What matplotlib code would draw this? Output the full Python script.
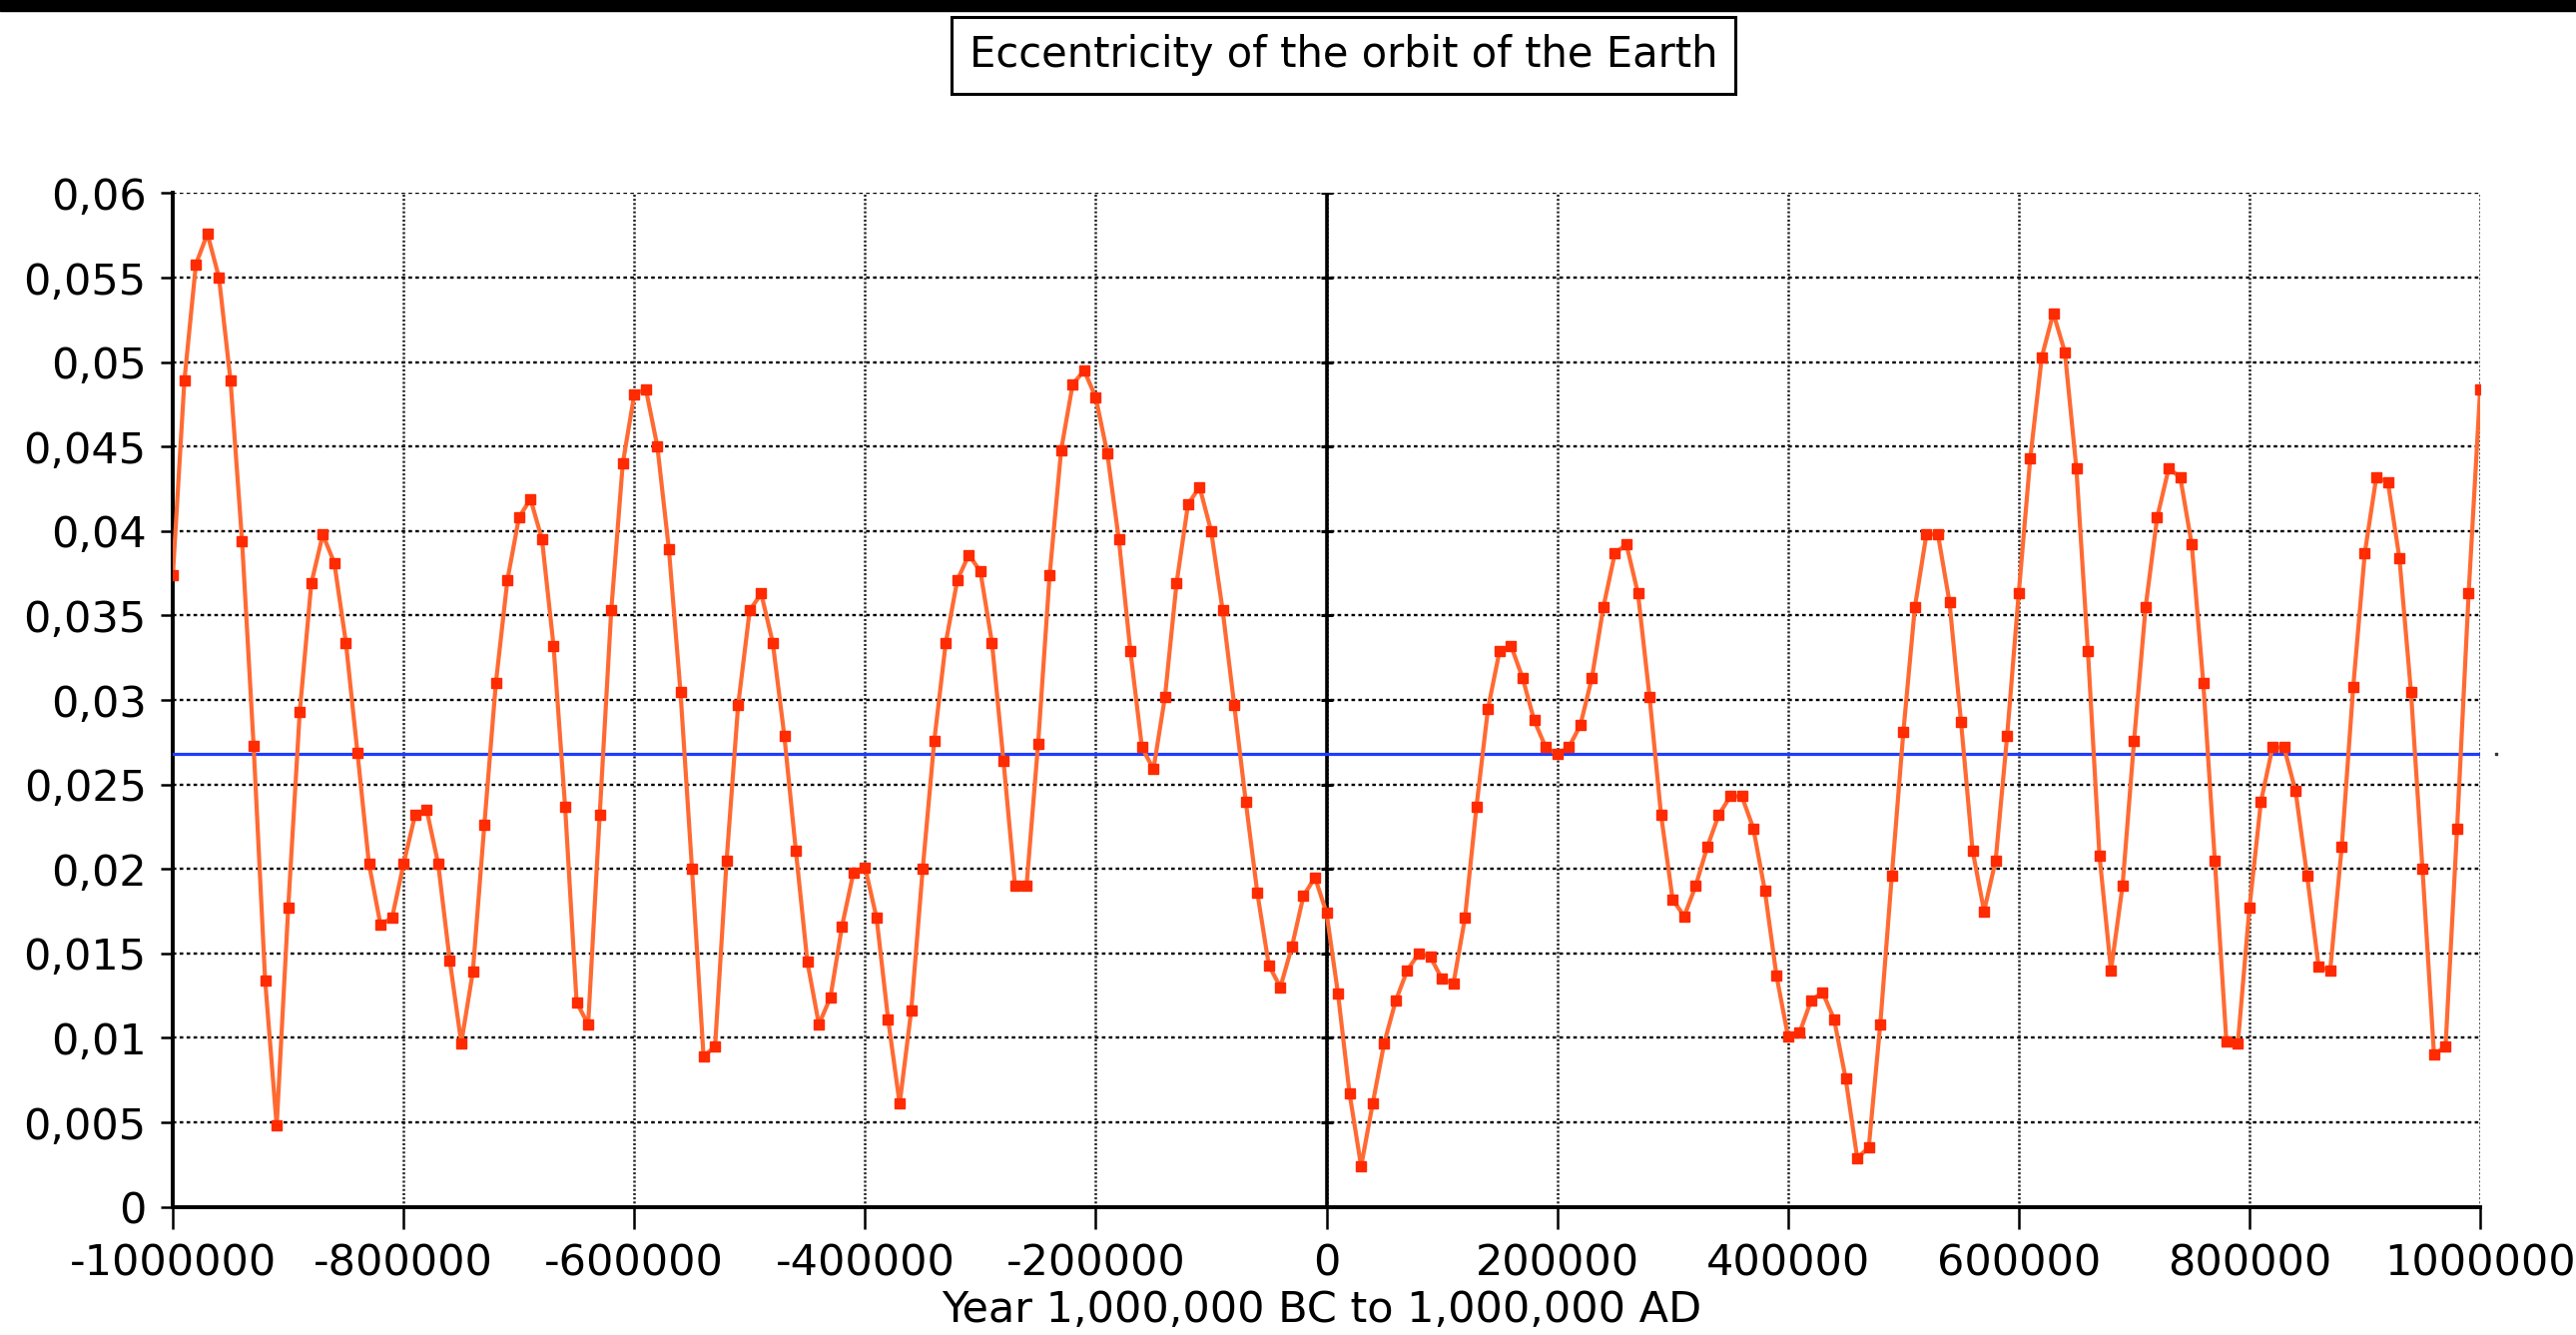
import numpy as np
import matplotlib.pyplot as plt
from matplotlib.patches import Rectangle
import matplotlib.transforms as mtransforms

plt.rcParams['font.family'] = ['DejaVu Sans']
plt.rcParams['lines.scale_dashes'] = False

years = np.arange(-1000000, 1000001, 10000)

eccentricity = [
    0.0374, 0.0489, 0.0558, 0.0576, 0.0550, 0.0489, 0.0394, 0.0273, 0.0134, 0.0048,
    0.0177, 0.0293, 0.0369, 0.0398, 0.0381, 0.0334, 0.0269, 0.0203, 0.0167, 0.0171,
    0.0203, 0.0232, 0.0235, 0.0203, 0.0146, 0.0097, 0.0139, 0.0226, 0.0310, 0.0371,
    0.0408, 0.0419, 0.0395, 0.0332, 0.0237, 0.0121, 0.0108, 0.0232, 0.0353, 0.0440,
    0.0481, 0.0484, 0.0450, 0.0389, 0.0305, 0.0200, 0.0089, 0.0095, 0.0205, 0.0297,
    0.0353, 0.0363, 0.0334, 0.0279, 0.0211, 0.0145, 0.0108, 0.0124, 0.0166, 0.0198,
    0.0201, 0.0171, 0.0111, 0.0061, 0.0116, 0.0200, 0.0276, 0.0334, 0.0371, 0.0386,
    0.0376, 0.0334, 0.0264, 0.0190, 0.0190, 0.0274, 0.0374, 0.0448, 0.0487, 0.0495,
    0.0479, 0.0446, 0.0395, 0.0329, 0.0272, 0.0259, 0.0302, 0.0369, 0.0416, 0.0426,
    0.0400, 0.0353, 0.0297, 0.0240, 0.0186, 0.0143, 0.0130, 0.0154, 0.0184, 0.0195,
    0.0174, 0.0126, 0.0067, 0.0024, 0.0061, 0.0097, 0.0122, 0.0140, 0.0150, 0.0148,
    0.0135, 0.0132, 0.0171, 0.0237, 0.0295, 0.0329, 0.0332, 0.0313, 0.0288, 0.0272,
    0.0268, 0.0272, 0.0285, 0.0313, 0.0355, 0.0387, 0.0392, 0.0363, 0.0302, 0.0232,
    0.0182, 0.0172, 0.0190, 0.0213, 0.0232, 0.0243, 0.0243, 0.0224, 0.0187, 0.0137,
    0.0101, 0.0103, 0.0122, 0.0127, 0.0111, 0.0076, 0.0029, 0.0035, 0.0108, 0.0196,
    0.0281, 0.0355, 0.0398, 0.0398, 0.0358, 0.0287, 0.0211, 0.0175, 0.0205, 0.0279,
    0.0363, 0.0443, 0.0503, 0.0529, 0.0506, 0.0437, 0.0329, 0.0208, 0.0140, 0.0190,
    0.0276, 0.0355, 0.0408, 0.0437, 0.0432, 0.0392, 0.0310, 0.0205, 0.0098, 0.0097,
    0.0177, 0.0240, 0.0272, 0.0272, 0.0246, 0.0196, 0.0142, 0.0140, 0.0213, 0.0308,
    0.0387, 0.0432, 0.0429, 0.0384, 0.0305, 0.0200, 0.0090, 0.0095, 0.0224, 0.0363,
    0.0484,
]
mean_ecc = 0.0268

xticks = [-1000000, -800000, -600000, -400000, -200000, 0,
          200000, 400000, 600000, 800000, 1000000]
xtick_labels = ['-1000000', '-800000', '-600000', '-400000', '-200000', '0',
                '200000', '400000', '600000', '800000', '1000000']
yticks = [0, 0.005, 0.01, 0.015, 0.02, 0.025, 0.03,
          0.035, 0.04, 0.045, 0.05, 0.055, 0.06]
ytick_labels = ['0', '0,005', '0,01', '0,015', '0,02', '0,025', '0,03',
                '0,035', '0,04', '0,045', '0,05', '0,055', '0,06']

fig = plt.figure(figsize=(25.8, 13.37), dpi=100)
ax = fig.add_axes([0.0671, 0.0960, 0.8957, 0.7593])

# dotted grid
for y in yticks[1:]:
    ax.axhline(y, color='black', lw=1.7, ls=(0, (2.6, 2.4)), zorder=1)
for x in xticks[1:]:
    ax.axvline(x, color='#222222', lw=1.8, ls=(0, (1.5, 1.5)), zorder=1)
ax.axvline(0, color='black', lw=2.6, zorder=2)
ax.plot(np.zeros(len(yticks)), yticks, ls='none', marker='_', ms=9,
        mew=2.2, color='black', zorder=2)

ax.axhline(mean_ecc, color='#1f3cff', lw=2.3, zorder=3)
trans = mtransforms.blended_transform_factory(ax.transAxes, ax.transData)
ax.plot([1.007], [mean_ecc], transform=trans, ls='none', marker='s', ms=1.8,
        color='#333333', clip_on=False)

ax.plot(years, eccentricity, color='#ff6a33', lw=3.0, zorder=4)
ax.plot(years, eccentricity, ls='none', marker='s', ms=7.3,
        color='#ff2a00', zorder=5)

ax.set_xlim(-1000000, 1000000)
ax.set_ylim(0, 0.06)
ax.set_xticks(xticks)
ax.set_xticklabels(xtick_labels)
ax.set_yticks(yticks)
ax.set_yticklabels(ytick_labels)
ax.tick_params(axis='x', direction='out', length=16, width=1.8, pad=10, labelsize=31)
ax.tick_params(axis='y', direction='out', length=9, width=1.8, pad=10, labelsize=31)

for s in ['top', 'right']:
    ax.spines[s].set_visible(False)
for s in ['left', 'bottom']:
    ax.spines[s].set_linewidth(2.8)

fig.text(0.513, 0.0185, 'Year 1,000,000 BC to 1,000,000 AD', ha='center',
         va='center', fontsize=31)

fig.text(0.5215, 0.9588, 'Eccentricity of the orbit of the Earth', ha='center',
         va='center', fontsize=30,
         bbox=dict(boxstyle='square,pad=0.42', fc='white', ec='black', lw=2.2))

fig.patches.append(Rectangle((0, 0.992), 1, 0.008, transform=fig.transFigure,
                             color='black', zorder=10))

fig.savefig('out.png', dpi=100)
